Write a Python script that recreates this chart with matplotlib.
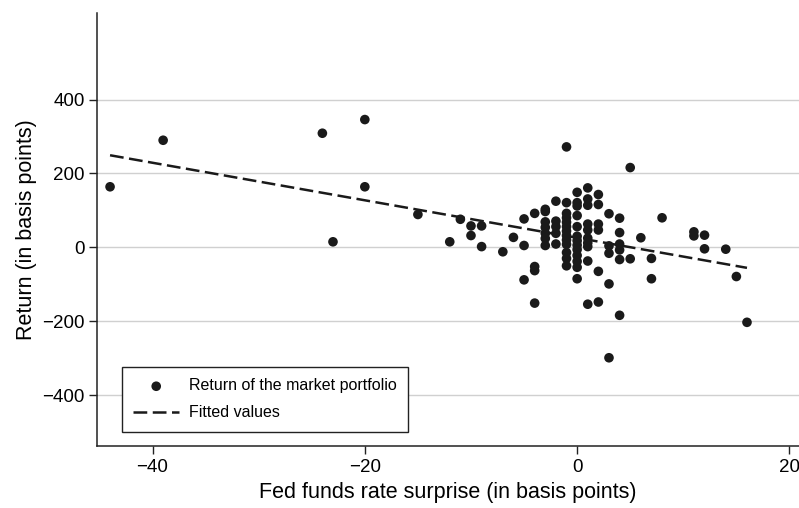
import numpy as np
import matplotlib.pyplot as plt

plt.rcParams['font.family'] = ['Liberation Sans', 'DejaVu Sans']

# Fed funds surprise (bp) and market return (bp), one list per surprise value
surprise = (
    [-44, -39, -24, -23, -20, -20, -15, -12, -11, -10, -10, -9, -9, -7, -6]
    + [-5] * 3 + [-4] * 4 + [-3] * 7 + [-2] * 5 + [-1] * 13 + [0] * 13
    + [1] * 10 + [2] * 6 + [3] * 5 + [4] * 6 + [5] * 2
    + [6, 7, 7, 8, 11, 11, 12, 12, 14, 15, 16]
)
returns = (
    [164, 290, 309, 15, 346, 164, 89, 15, 76, 58, 32, 58, 2, -12, 27]
    + [77, 5, -88]
    + [92, -52, -63, -151]
    + [103, 97, 69, 54, 38, 24, 5]
    + [125, 71, 56, 38, 9]
    + [272, 121, 92, 80, 68, 56, 44, 32, 20, 8, -14, -30, -50]
    + [149, 121, 112, 86, 56, 30, 18, 6, -6, -22, -38, -54, -85]
    + [161, 131, 114, 63, 47, 25, 12, 2, -37, -154]
    + [143, 116, 63, 47, -65, -148]
    + [91, 4, -16, -99, -299]
    + [79, 40, 9, -7, -33, -184]
    + [216, -31]
    + [26, -30, -85, 80, 42, 31, 33, -4, -5, -79, -203]
)

x = np.array(surprise, dtype=float)
y = np.array(returns, dtype=float)

# OLS fit of return on surprise
slope, intercept = np.polyfit(x, y, 1)
xfit = np.array([x.min(), x.max()])
yfit = intercept + slope * xfit

fig = plt.figure(figsize=(7.99, 5.08), dpi=100)
ax = fig.add_axes([0.1218, 0.122, 0.8782, 0.852])

ax.scatter(x, y, s=48, color='#1a1a1a', edgecolors='none', zorder=3,
           label='Return of the market portfolio')
ax.plot(xfit, yfit, color='#1a1a1a', lw=1.8, dashes=(5.5, 2.2), zorder=2,
        label='Fitted values')

ax.set_xlim(-45.2, 20.9)
ax.set_ylim(-538, 634)
ax.set_xticks([-40, -20, 0, 20])
ax.set_yticks([-400, -200, 0, 200, 400])
ax.set_xticklabels(['\u221240', '\u221220', '0', '20'])
ax.set_yticklabels(['\u2212400', '\u2212200', '0', '200', '400'])
ax.yaxis.grid(True, color='#d0d0d0', lw=1)
ax.set_axisbelow(True)

for side in ['top', 'right']:
    ax.spines[side].set_visible(False)
for side in ['left', 'bottom']:
    ax.spines[side].set_color('#222222')
    ax.spines[side].set_linewidth(1.1)

ax.tick_params(direction='out', length=6, width=1, color='#222222',
               labelsize=13.5, pad=3)
ax.set_xlabel('Fed funds rate surprise (in basis points)', fontsize=15.5, labelpad=5)
ax.set_ylabel('Return (in basis points)', fontsize=15.5, labelpad=4)

leg = ax.legend(loc='upper left', bbox_to_anchor=(0.035, 0.182),
                borderaxespad=0, fancybox=False, fontsize=11.5,
                handlelength=2.9, handletextpad=0.6, labelspacing=0.75,
                borderpad=0.7, edgecolor='#222222', framealpha=1)
leg.get_frame().set_linewidth(1)

fig.savefig('out.png', dpi=100)
